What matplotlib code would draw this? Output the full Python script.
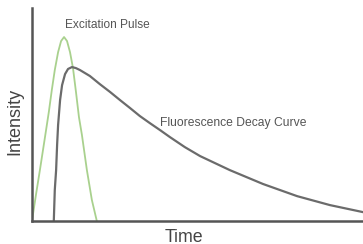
import matplotlib.pyplot as plt

# excitation pulse
pulse_t = [0.0, 1.2, 2.4, 3.9, 5.1, 6.0, 6.9, 7.9, 8.8, 9.7, 10.6, 11.5, 12.4, 13.3,
           14.2, 15.1, 16.6, 18.1, 19.6]
pulse_i = [0.0, 12.2, 23.9, 39.0, 51.2, 61.5, 70.9, 79.3, 84.5, 86.4, 84.5, 79.3, 71.8,
           60.6, 48.8, 40.4, 23.9, 9.9, 0.0]

# fluorescence decay curve
decay_t = [6.6, 6.9, 7.3, 7.6, 7.9, 8.5, 9.1, 10.0, 10.9, 12.1, 13.3, 14.5, 17.5, 20.5,
           23.6, 26.6, 29.6, 32.6, 35.6, 38.7, 41.7, 46.2, 50.8, 55.3, 59.8, 69.8, 80.1,
           90.0, 100]
decay_i = [0, 14.6, 23.9, 35.7, 45.1, 56.8, 63.8, 69.0, 71.4, 72.3, 71.8, 70.9, 68.1, 64.3,
           60.6, 56.8, 53.1, 49.3, 46.0, 42.7, 39.4, 34.7, 30.5, 27.2, 23.9, 17.4, 11.7,
           7.5, 4.2]

plt.rcParams['font.family'] = ['Liberation Sans', 'DejaVu Sans']

fig = plt.figure(figsize=(3.63, 2.44), dpi=100)
ax = fig.add_axes([0.088, 0.094, 0.912, 0.873])

ax.plot(pulse_t, pulse_i, color='#a9d18e', lw=1.3, solid_joinstyle='round')
ax.plot(decay_t, decay_i, color='#6b6b6b', lw=1.6, solid_joinstyle='round')

ax.text(10.0, 92, 'Excitation Pulse', fontsize=8.6, color='#555555', va='center')
ax.text(38.7, 46, 'Fluorescence Decay Curve', fontsize=8.7, color='#555555', va='center')

ax.text(-0.051, 0.47, 'Intensity', transform=ax.transAxes, rotation=90,
        ha='center', va='center', fontsize=13, color='#444444')
ax.text(0.459, -0.075, 'Time', transform=ax.transAxes,
        ha='center', va='center', fontsize=12.8, color='#444444')

ax.set_xlim(0, 100)
ax.set_ylim(0, 100)
ax.set_xticks([])
ax.set_yticks([])
for s in ['top', 'right']:
    ax.spines[s].set_visible(False)
for s in ['left', 'bottom']:
    ax.spines[s].set_color('#555555')
    ax.spines[s].set_linewidth(1.8)

fig.savefig('out.png', dpi=100)
